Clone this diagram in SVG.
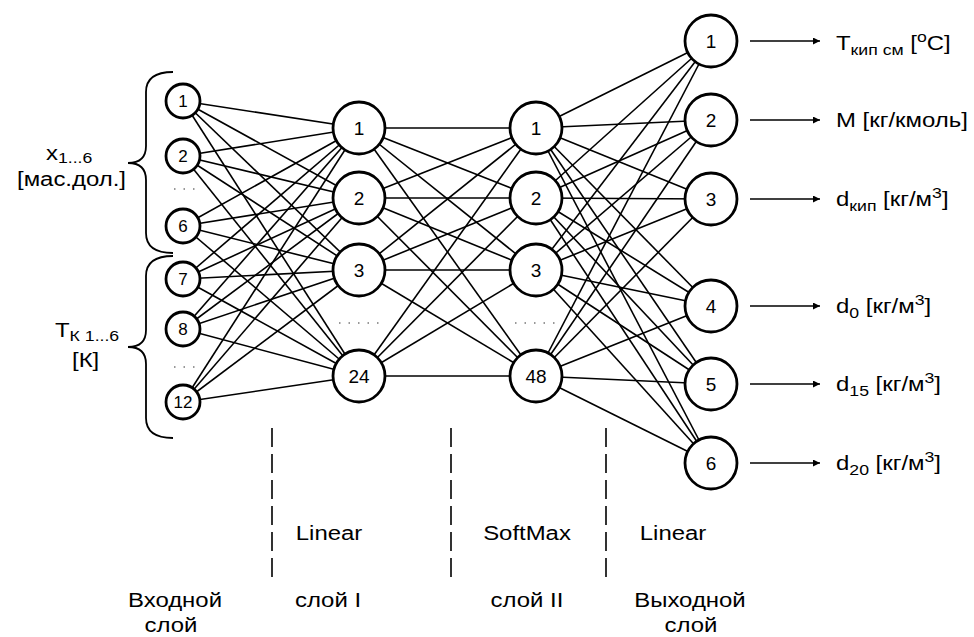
<svg xmlns="http://www.w3.org/2000/svg" width="974" height="637" viewBox="0 0 974 637">
<defs>
<marker id="arr" viewBox="0 0 10 10" refX="10" refY="5" markerWidth="9" markerHeight="7" markerUnits="userSpaceOnUse" orient="auto"><path d="M0,0 L10,5 L0,10 Z" fill="#000"/></marker>
</defs>
<style>
text{font-family:"Liberation Sans",Arial,sans-serif;fill:#000}
.c line{stroke:#000;stroke-width:1.6}
.n circle{fill:#fff;stroke:#000;stroke-width:2.8}
.n text{font-size:19px;text-anchor:middle}
.in text{font-size:17px}
.lbl{font-size:21px}
.sub{font-size:15.5px}
.mid{text-anchor:middle}
.dash{stroke:#000;stroke-width:1.6;stroke-dasharray:19 7;fill:none}
.dots{stroke:#777;stroke-width:1.5;stroke-dasharray:1.5 8;fill:none}
.brace{stroke:#000;stroke-width:1.8;fill:none}
.arrow{stroke:#000;stroke-width:1.8;marker-end:url(#arr)}
</style>
<rect width="974" height="637" fill="#fff"/>
<g id="connectors" class="c">
<line x1="183" y1="101" x2="359" y2="128"/><line x1="183" y1="101" x2="359" y2="198"/><line x1="183" y1="101" x2="359" y2="270"/><line x1="183" y1="101" x2="359" y2="376"/>
<line x1="183" y1="156" x2="359" y2="128"/><line x1="183" y1="156" x2="359" y2="198"/><line x1="183" y1="156" x2="359" y2="270"/><line x1="183" y1="156" x2="359" y2="376"/>
<line x1="183" y1="226" x2="359" y2="128"/><line x1="183" y1="226" x2="359" y2="198"/><line x1="183" y1="226" x2="359" y2="270"/><line x1="183" y1="226" x2="359" y2="376"/>
<line x1="183" y1="279" x2="359" y2="128"/><line x1="183" y1="279" x2="359" y2="198"/><line x1="183" y1="279" x2="359" y2="270"/><line x1="183" y1="279" x2="359" y2="376"/>
<line x1="183" y1="329" x2="359" y2="128"/><line x1="183" y1="329" x2="359" y2="198"/><line x1="183" y1="329" x2="359" y2="270"/><line x1="183" y1="329" x2="359" y2="376"/>
<line x1="183" y1="402" x2="359" y2="128"/><line x1="183" y1="402" x2="359" y2="198"/><line x1="183" y1="402" x2="359" y2="270"/><line x1="183" y1="402" x2="359" y2="376"/>
<line x1="359" y1="128" x2="536" y2="128"/><line x1="359" y1="128" x2="536" y2="198"/><line x1="359" y1="128" x2="536" y2="270"/><line x1="359" y1="128" x2="536" y2="376"/>
<line x1="359" y1="198" x2="536" y2="128"/><line x1="359" y1="198" x2="536" y2="198"/><line x1="359" y1="198" x2="536" y2="270"/><line x1="359" y1="198" x2="536" y2="376"/>
<line x1="359" y1="270" x2="536" y2="128"/><line x1="359" y1="270" x2="536" y2="198"/><line x1="359" y1="270" x2="536" y2="270"/><line x1="359" y1="270" x2="536" y2="376"/>
<line x1="359" y1="376" x2="536" y2="128"/><line x1="359" y1="376" x2="536" y2="198"/><line x1="359" y1="376" x2="536" y2="270"/><line x1="359" y1="376" x2="536" y2="376"/>
<line x1="536" y1="128" x2="711" y2="41"/><line x1="536" y1="128" x2="711" y2="120"/><line x1="536" y1="128" x2="711" y2="199"/><line x1="536" y1="128" x2="711" y2="306"/><line x1="536" y1="128" x2="711" y2="384"/><line x1="536" y1="128" x2="711" y2="463"/>
<line x1="536" y1="198" x2="711" y2="41"/><line x1="536" y1="198" x2="711" y2="120"/><line x1="536" y1="198" x2="711" y2="199"/><line x1="536" y1="198" x2="711" y2="306"/><line x1="536" y1="198" x2="711" y2="384"/><line x1="536" y1="198" x2="711" y2="463"/>
<line x1="536" y1="270" x2="711" y2="41"/><line x1="536" y1="270" x2="711" y2="120"/><line x1="536" y1="270" x2="711" y2="199"/><line x1="536" y1="270" x2="711" y2="306"/><line x1="536" y1="270" x2="711" y2="384"/><line x1="536" y1="270" x2="711" y2="463"/>
<line x1="536" y1="376" x2="711" y2="41"/><line x1="536" y1="376" x2="711" y2="120"/><line x1="536" y1="376" x2="711" y2="199"/><line x1="536" y1="376" x2="711" y2="306"/><line x1="536" y1="376" x2="711" y2="384"/><line x1="536" y1="376" x2="711" y2="463"/>
<line class="arrow" x1="750" y1="41" x2="820" y2="41"/>
<line class="arrow" x1="750" y1="120" x2="820" y2="120"/>
<line class="arrow" x1="750" y1="199" x2="820" y2="199"/>
<line class="arrow" x1="750" y1="306" x2="820" y2="306"/>
<line class="arrow" x1="750" y1="384" x2="820" y2="384"/>
<line class="arrow" x1="750" y1="463" x2="820" y2="463"/>
</g>
<g id="input-layer" class="n in">
<g id="in1"><circle cx="183" cy="101" r="17"/><text x="183" y="107">1</text></g>
<g id="in2"><circle cx="183" cy="156" r="17"/><text x="183" y="162">2</text></g>
<g id="in6"><circle cx="183" cy="226" r="17"/><text x="183" y="232">6</text></g>
<g id="in7"><circle cx="183" cy="279" r="17"/><text x="183" y="285">7</text></g>
<g id="in8"><circle cx="183" cy="329" r="17"/><text x="183" y="335">8</text></g>
<g id="in12"><circle cx="183" cy="402" r="17"/><text x="183" y="408">12</text></g>
</g>
<g id="layer1" class="n">
<g id="h1-1"><circle cx="359" cy="128" r="26"/><text x="359" y="135">1</text></g>
<g id="h1-2"><circle cx="359" cy="198" r="26"/><text x="359" y="205">2</text></g>
<g id="h1-3"><circle cx="359" cy="270" r="26"/><text x="359" y="277">3</text></g>
<g id="h1-24"><circle cx="359" cy="376" r="26"/><text x="359" y="383">24</text></g>
</g>
<g id="layer2" class="n">
<g id="h2-1"><circle cx="536" cy="128" r="26"/><text x="536" y="135">1</text></g>
<g id="h2-2"><circle cx="536" cy="198" r="26"/><text x="536" y="205">2</text></g>
<g id="h2-3"><circle cx="536" cy="270" r="26"/><text x="536" y="277">3</text></g>
<g id="h2-48"><circle cx="536" cy="376" r="26"/><text x="536" y="383">48</text></g>
</g>
<g id="output-layer" class="n">
<g id="out1"><circle cx="711" cy="41" r="26"/><text x="711" y="48">1</text></g>
<g id="out2"><circle cx="711" cy="120" r="26"/><text x="711" y="127">2</text></g>
<g id="out3"><circle cx="711" cy="199" r="26"/><text x="711" y="206">3</text></g>
<g id="out4"><circle cx="711" cy="306" r="26"/><text x="711" y="313">4</text></g>
<g id="out5"><circle cx="711" cy="384" r="26"/><text x="711" y="391">5</text></g>
<g id="out6"><circle cx="711" cy="463" r="26"/><text x="711" y="470">6</text></g>
</g>
<g id="ellipsis">
<line class="dots" x1="174" y1="189" x2="196" y2="189"/>
<line class="dots" x1="174" y1="367" x2="196" y2="367"/>
<line class="dots" x1="339" y1="323" x2="382" y2="323"/>
<line class="dots" x1="515" y1="323" x2="558" y2="323"/>
</g>
<g id="braces">
<path class="brace" d="M173,72 Q146,72 146,92 L146,146 Q146,163 128,163 Q146,163 146,180 L146,233 Q146,253 173,253"/>
<path class="brace" d="M173,256 Q146,256 146,276 L146,330 Q146,347 128,347 Q146,347 146,364 L146,418 Q146,438 173,438"/>
</g>
<g id="input-labels">
<text class="lbl" transform="translate(46,160) scale(1.14,1)">x<tspan class="sub" dy="3">1...6</tspan></text>
<text class="lbl" transform="translate(17,186) scale(1.14,1)">[мас.дол.]</text>
<text class="lbl" transform="translate(55,337) scale(1.14,1)">T<tspan class="sub" dy="4">К 1...6</tspan></text>
<text class="lbl" transform="translate(72,367) scale(1.14,1)">[К]</text>
</g>
<g id="output-labels">
<text class="lbl" transform="translate(836,50) scale(1.14,1)">T<tspan class="sub" dy="5">кип см</tspan><tspan dy="-5"> [</tspan><tspan class="sub" dy="-8">o</tspan><tspan dy="8">C]</tspan></text>
<text class="lbl" transform="translate(836,127) scale(1.14,1)">M [кг/кмоль]</text>
<text class="lbl" transform="translate(836,206) scale(1.14,1)">d<tspan class="sub" dy="5">кип</tspan><tspan dy="-5"> [кг/м</tspan><tspan class="sub" dy="-8">3</tspan><tspan dy="8">]</tspan></text>
<text class="lbl" transform="translate(836,313) scale(1.14,1)">d<tspan class="sub" dy="5">0</tspan><tspan dy="-5"> [кг/м</tspan><tspan class="sub" dy="-8">3</tspan><tspan dy="8">]</tspan></text>
<text class="lbl" transform="translate(836,391) scale(1.14,1)">d<tspan class="sub" dy="5">15</tspan><tspan dy="-5"> [кг/м</tspan><tspan class="sub" dy="-8">3</tspan><tspan dy="8">]</tspan></text>
<text class="lbl" transform="translate(836,470) scale(1.14,1)">d<tspan class="sub" dy="5">20</tspan><tspan dy="-5"> [кг/м</tspan><tspan class="sub" dy="-8">3</tspan><tspan dy="8">]</tspan></text>
</g>
<g id="separators">
<line class="dash" x1="272" y1="428" x2="272" y2="580"/>
<line class="dash" x1="451" y1="428" x2="451" y2="580"/>
<line class="dash" x1="606" y1="428" x2="606" y2="580"/>
</g>
<g id="layer-labels">
<text class="lbl mid" transform="translate(329,540) scale(1.14,1)">Linear</text>
<text class="lbl mid" transform="translate(527,540) scale(1.14,1)">SoftMax</text>
<text class="lbl mid" transform="translate(673,540) scale(1.14,1)">Linear</text>
<text class="lbl mid" transform="translate(175,607) scale(1.14,1)">Входной</text>
<text class="lbl mid" transform="translate(171,632) scale(1.14,1)">слой</text>
<text class="lbl mid" transform="translate(328,607) scale(1.14,1)">слой I</text>
<text class="lbl mid" transform="translate(527,607) scale(1.14,1)">слой II</text>
<text class="lbl mid" transform="translate(690,607) scale(1.14,1)">Выходной</text>
<text class="lbl mid" transform="translate(691,632) scale(1.14,1)">слой</text>
</g>
</svg>
